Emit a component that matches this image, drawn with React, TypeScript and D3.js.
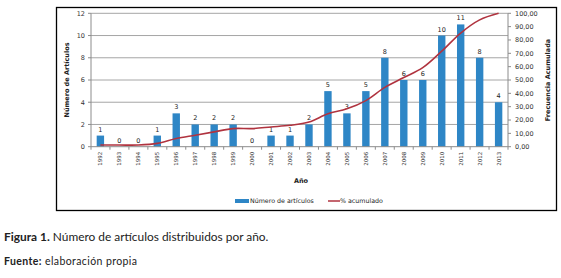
import React from "react";
import * as d3 from "d3";

const years = ["1992","1993","1994","1995","1996","1997","1998","1999","2000","2001","2002","2003","2004","2005","2006","2007","2008","2009","2010","2011","2012","2013"];
const articles = [1,0,0,1,3,2,2,2,0,1,1,2,5,3,5,8,6,6,10,11,8,4];
const cumulative = [1.23,1.23,1.23,2.47,6.17,8.64,11.11,13.58,13.58,14.81,16.05,18.52,24.69,28.40,34.57,44.44,51.85,59.26,71.60,85.19,95.06,100];
const leftTicks = [0,2,4,6,8,10,12];
const rightTicks = [0,10,20,30,40,50,60,70,80,90,100];
const seriesNames = ["Número de artículos", "% acumulado"];

const W = 561, H = 278;
const BLUE = "#2E86C6";
const RED = "#B0333F";
const chartFont = "'DejaVu Sans', sans-serif";
const capFont = "Lato, 'Open Sans', sans-serif";

export default function App() {
  const x0 = 91, x1 = 508, yT = 13.3, yB = 146.7;
  const x = d3.scaleBand().domain(years).range([x0, x1]).paddingInner(0.61).paddingOuter(0.3);
  const xc = (d: string) => (x(d) as number) + x.bandwidth() / 2;
  const yL = d3.scaleLinear().domain([0, 12]).range([yB, yT]);
  const yR = d3.scaleLinear().domain([0, 100]).range([yB, yT]);
  const step = (x1 - x0) / years.length;
  const line = d3.line<number>().x((_, i) => xc(years[i])).y((v) => yR(v)).curve(d3.curveCatmullRom.alpha(0.5));

  return (
    <svg width={W} height={H} style={{ position: "absolute", left: 0, top: 0, background: "#fff" }}>
      <rect x={56.5} y={7.5} width={500} height={203} fill="#fff" stroke="#000" strokeWidth={1.3} />
      {leftTicks.filter((t) => t > 0).map((t) => (
        <line key={t} x1={x0} x2={x1} y1={yL(t)} y2={yL(t)} stroke="#A6A6A6" strokeWidth={1} />
      ))}
      {/* left axis */}
      <line x1={x0} x2={x0} y1={yT} y2={yB} stroke="#8C8C8C" />
      {leftTicks.map((t) => (
        <g key={t}>
          <line x1={x0 - 3} x2={x0} y1={yL(t)} y2={yL(t)} stroke="#8C8C8C" />
          <text x={x0 - 6} y={yL(t)} dy="0.35em" textAnchor="end" fontSize={6.5} fontFamily={chartFont} fill="#333">{t}</text>
        </g>
      ))}
      {/* right axis */}
      <line x1={x1} x2={x1} y1={yT} y2={yB} stroke="#8C8C8C" />
      {rightTicks.map((t) => (
        <g key={t}>
          <line x1={x1} x2={x1 + 3} y1={yR(t)} y2={yR(t)} stroke="#8C8C8C" />
          <text x={x1 + 7} y={yR(t)} dy="0.35em" textAnchor="start" fontSize={6.5} fontFamily={chartFont} fill="#333">{t.toFixed(2).replace(".", ",")}</text>
        </g>
      ))}
      {/* bars */}
      {articles.map((v, i) => (
        <g key={years[i]}>
          {v > 0 && <rect x={x(years[i])} y={yL(v)} width={x.bandwidth()} height={yB - yL(v)} fill={BLUE} />}
          <text x={xc(years[i])} y={yL(v) - 4} textAnchor="middle" fontSize={6.5} fontFamily={chartFont} fill="#222">{v}</text>
        </g>
      ))}
      {/* x axis */}
      <line x1={x0} x2={x1} y1={yB} y2={yB} stroke="#8C8C8C" />
      {years.map((_, i) => (
        <line key={i} x1={x0 + i * step} x2={x0 + i * step} y1={yB} y2={yB + 3} stroke="#8C8C8C" />
      ))}
      <line x1={x1} x2={x1} y1={yB} y2={yB + 3} stroke="#8C8C8C" />
      {years.map((d) => (
        <text key={d} transform={`translate(${xc(d) + 2},${yB + 5}) rotate(-90)`} textAnchor="end" fontSize={5.5} fontFamily={chartFont} fill="#333">{d}</text>
      ))}
      <path d={line(cumulative) || ""} fill="none" stroke={RED} strokeWidth={1.6} />
      {/* axis titles */}
      <text x={301} y={183} textAnchor="middle" fontSize={6.5} fontWeight="bold" fontFamily={chartFont} fill="#222">Año</text>
      <text transform={`translate(69,80) rotate(-90)`} textAnchor="middle" fontSize={6.5} fontWeight="bold" fontFamily={chartFont} fill="#222">Número de Artículos</text>
      <text transform={`translate(550,80) rotate(-90)`} textAnchor="middle" fontSize={6.5} fontWeight="bold" fontFamily={chartFont} fill="#222">Frecuencia Acumulada</text>
      {/* legend */}
      <rect x={235} y={199} width={14} height={4} fill={BLUE} />
      <text x={250} y={201} dy="0.35em" fontSize={6.3} fontFamily={chartFont} fill="#222">{seriesNames[0]}</text>
      <line x1={328} x2={340} y1={201} y2={201} stroke={RED} strokeWidth={1.5} />
      <text x={340} y={201} dy="0.35em" fontSize={6.3} fontFamily={chartFont} fill="#222">{seriesNames[1]}</text>
      {/* caption */}
      <text x={4} y={241} fontSize={11.9} fontFamily={capFont} fill="#222">
        <tspan fontWeight="bold">Figura 1.</tspan> Número de artículos distribuidos por año.
      </text>
      <text x={4} y={265} fontSize={10.5} letterSpacing={0.4} fontFamily={capFont} fill="#222">
        <tspan fontWeight="bold">Fuente:</tspan> elaboración propia
      </text>
    </svg>
  );
}
